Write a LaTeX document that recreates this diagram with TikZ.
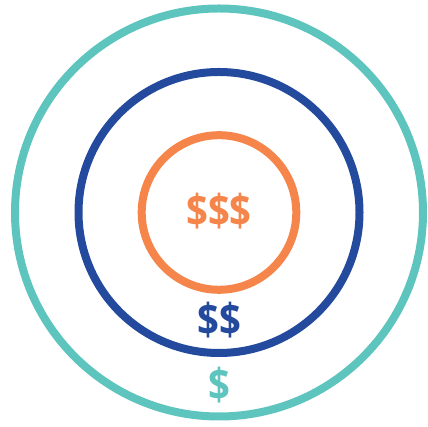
\documentclass[tikz,border=0pt]{standalone}
\usepackage{fontspec}
\setmainfont{Open Sans}[UprightFont=* Bold]
\definecolor{ringteal}{HTML}{5EC4BE}
\definecolor{ringblue}{HTML}{244A9E}
\definecolor{ringorange}{HTML}{F5854A}
\begin{document}
\begin{tikzpicture}[x=1pt,y=1pt,
  ring/.style={line width=8pt},
  price/.style={inner sep=0pt,xscale=0.87,font=\fontsize{44}{44}\selectfont}]
\useasboundingbox (0,0) rectangle (428,427);
\coordinate (c) at (219,214.5);
\draw[ring,ringteal] (c) circle[radius=204];
\draw[ring,ringblue] (c) circle[radius=140.5];
\draw[ring,ringorange] (c) circle[radius=77.3];
\node[price,text=ringorange] (high) at (219,215.5) {\$\$\$};
\node[price,text=ringblue] (mid) at (219,107) {\$\$};
\node[price,text=ringteal] (low) at (219,42) {\$};
\end{tikzpicture}
\end{document}
